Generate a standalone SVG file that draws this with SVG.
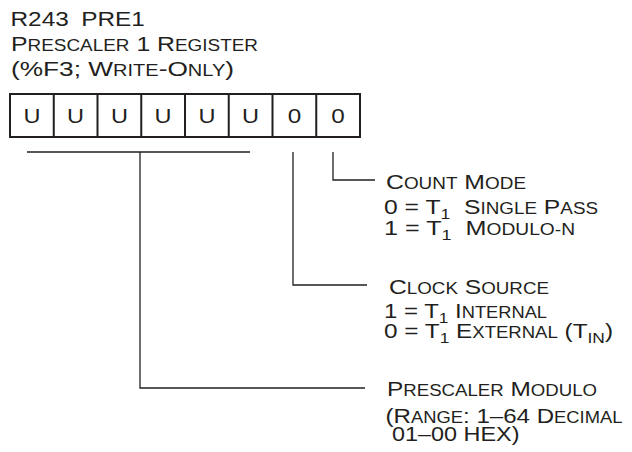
<svg xmlns="http://www.w3.org/2000/svg" width="632" height="452" viewBox="0 0 632 452">
<style>
text{font-family:"Liberation Sans",Arial,sans-serif;font-size:21px;fill:#231f20;white-space:pre}
.sc{font-size:16px}
.sub{font-size:15px}
.bit{text-anchor:middle}
.box{fill:#fff;stroke:#231f20;stroke-width:2}
.ln{stroke:#231f20;stroke-width:1.3;fill:none}
</style>
<rect width="632" height="452" fill="#fff"/>
<g id="title">
<text transform="matrix(1.16 0 0 1 10.5 26)"><tspan x="0">R243</tspan><tspan x="61">PRE1</tspan></text>
<text x="11" y="51" textLength="247" lengthAdjust="spacingAndGlyphs">P<tspan class="sc">RESCALER</tspan> 1 R<tspan class="sc">EGISTER</tspan></text>
<text x="11" y="76" textLength="223" lengthAdjust="spacingAndGlyphs">(%F3; W<tspan class="sc">RITE</tspan>-O<tspan class="sc">NLY</tspan>)</text>
</g>
<g id="register">
<rect class="box" x="10" y="94" width="350" height="43"/>
<path class="ln" style="stroke-width:2" d="M53.75 94V137M97.5 94V137M141.25 94V137M185 94V137M228.75 94V137M272.5 94V137M316.25 94V137"/>
<text class="bit" x="31.9" y="123" textLength="17" lengthAdjust="spacingAndGlyphs">U</text>
<text class="bit" x="75.6" y="123" textLength="17" lengthAdjust="spacingAndGlyphs">U</text>
<text class="bit" x="119.4" y="123" textLength="17" lengthAdjust="spacingAndGlyphs">U</text>
<text class="bit" x="163.1" y="123" textLength="17" lengthAdjust="spacingAndGlyphs">U</text>
<text class="bit" x="206.9" y="123" textLength="17" lengthAdjust="spacingAndGlyphs">U</text>
<text class="bit" x="250.6" y="123" textLength="17" lengthAdjust="spacingAndGlyphs">U</text>
<text class="bit" x="294.4" y="123" textLength="13.5" lengthAdjust="spacingAndGlyphs">0</text>
<text class="bit" x="338.1" y="123" textLength="13.5" lengthAdjust="spacingAndGlyphs">0</text>
</g>
<g id="connectors">
<path class="ln" d="M27 152H250M140 152V388H365"/>
<path class="ln" d="M293 152V285H367"/>
<path class="ln" d="M333 152V180H375"/>
</g>
<g id="count-mode">
<text x="386" y="189" textLength="140" lengthAdjust="spacingAndGlyphs">C<tspan class="sc">OUNT</tspan> M<tspan class="sc">ODE</tspan></text>
<text x="384" y="214" textLength="214" lengthAdjust="spacingAndGlyphs">0 = T<tspan class="sub" dy="5">1</tspan><tspan dy="-5">  S</tspan><tspan class="sc">INGLE</tspan> P<tspan class="sc">ASS</tspan></text>
<text x="384" y="234.5" textLength="191" lengthAdjust="spacingAndGlyphs">1 = T<tspan class="sub" dy="5">1</tspan><tspan dy="-5">  M</tspan><tspan class="sc">ODULO-N</tspan></text>
</g>
<g id="clock-source">
<text x="389" y="294" textLength="160" lengthAdjust="spacingAndGlyphs">C<tspan class="sc">LOCK</tspan> S<tspan class="sc">OURCE</tspan></text>
<text x="384" y="318" textLength="163" lengthAdjust="spacingAndGlyphs">1 = T<tspan class="sub" dy="5">1</tspan><tspan dy="-5"> I</tspan><tspan class="sc">NTERNAL</tspan></text>
<text x="384" y="338" textLength="229" lengthAdjust="spacingAndGlyphs">0 = T<tspan class="sub" dy="5">1</tspan><tspan dy="-5"> E</tspan><tspan class="sc">XTERNAL</tspan> (T<tspan class="sub" dy="5">IN</tspan><tspan dy="-5">)</tspan></text>
</g>
<g id="prescaler-modulo">
<text x="387" y="396" textLength="210" lengthAdjust="spacingAndGlyphs">P<tspan class="sc">RESCALER</tspan> M<tspan class="sc">ODULO</tspan></text>
<text x="385.5" y="423" textLength="237" lengthAdjust="spacingAndGlyphs">(R<tspan class="sc">ANGE</tspan>: 1–64 D<tspan class="sc">ECIMAL</tspan></text>
<text x="385.5" y="441" textLength="134" lengthAdjust="spacingAndGlyphs"> 01–00 HEX)</text>
</g>
</svg>
